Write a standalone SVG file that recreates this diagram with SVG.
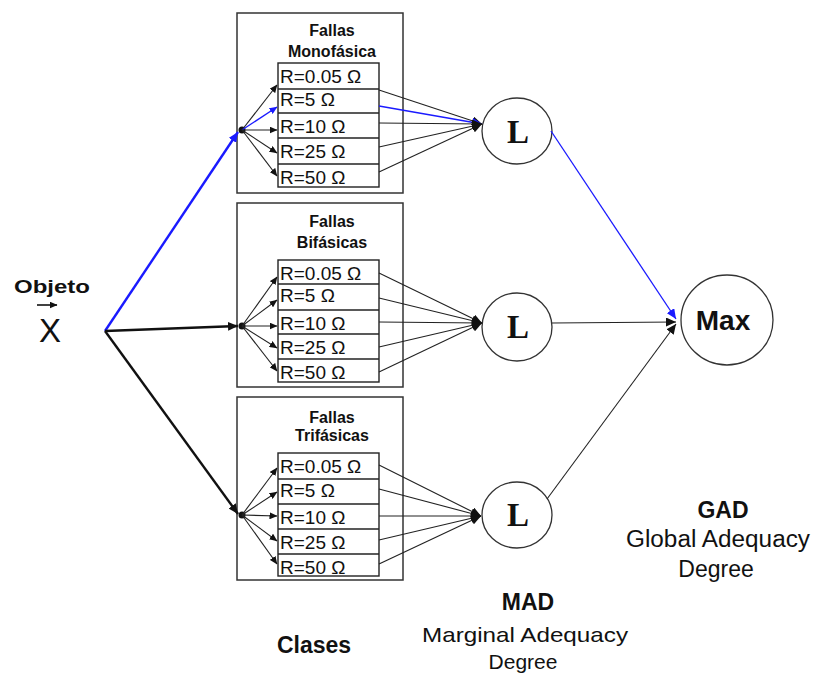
<svg xmlns="http://www.w3.org/2000/svg" width="814" height="677" viewBox="0 0 814 677">
<style>
.box{fill:none;stroke:#333;stroke-width:1.5}
.tbl{fill:#fff;stroke:#222;stroke-width:1.4}
.ttl{font-family:"Liberation Sans",Arial,sans-serif;font-weight:bold;font-size:16px;fill:#111;text-anchor:middle}
.row{font-family:"Liberation Sans",Arial,sans-serif;font-size:19px;fill:#111}
.circ{fill:#fff;stroke:#333;stroke-width:1.3}
.L{font-family:"Liberation Serif","Times New Roman",serif;font-weight:bold;font-size:33px;fill:#111;text-anchor:middle}
.lbl{font-family:"Liberation Sans",Arial,sans-serif;fill:#111;text-anchor:middle}
.b{font-weight:bold}
.main{fill:none;stroke:#111;stroke-width:2.4}
.mainb{fill:none;stroke:#1a1aff;stroke-width:2.4}
.fan{fill:none;stroke:#222;stroke-width:1.1}
.fanb{fill:none;stroke:#1a1aff;stroke-width:1.3}
.cv{fill:none;stroke:#222;stroke-width:1.1}
.cvb{fill:none;stroke:#1a1aff;stroke-width:1.3}
</style>
<defs>
<marker id="ah" markerUnits="userSpaceOnUse" markerWidth="11" markerHeight="9" refX="10" refY="4.5" orient="auto"><path d="M0,0 L10,4.5 L0,9 z" fill="#111"/></marker>
<marker id="ahb" markerUnits="userSpaceOnUse" markerWidth="11" markerHeight="9" refX="10" refY="4.5" orient="auto"><path d="M0,0 L10,4.5 L0,9 z" fill="#1a1aff"/></marker>
<marker id="as" markerUnits="userSpaceOnUse" markerWidth="8" markerHeight="7" refX="7.5" refY="3.5" orient="auto"><path d="M0,0 L8,3.5 L0,7 z" fill="#111"/></marker>
<marker id="asb" markerUnits="userSpaceOnUse" markerWidth="8" markerHeight="7" refX="7.5" refY="3.5" orient="auto"><path d="M0,0 L8,3.5 L0,7 z" fill="#1a1aff"/></marker>
</defs>
<rect width="814" height="677" fill="#fff"/>

<g id="objeto">
<text x="14" y="293" class="lbl b" style="text-anchor:start;font-size:19px" textLength="76" lengthAdjust="spacingAndGlyphs">Objeto</text>
<line x1="37" y1="305" x2="57" y2="305" stroke="#111" stroke-width="1.6" marker-end="url(#as)"/>
<text x="50" y="342" class="lbl" style="font-size:33px">X</text>
</g>

<g id="class1">
<rect class="box" x="237" y="13" width="166" height="180"/>
<text class="ttl" x="332" y="36">Fallas</text>
<text class="ttl" x="332" y="57">Monofásica</text>
<rect class="tbl" x="278" y="63" width="101" height="124"/>
<line x1="278" y1="89" x2="379" y2="89" stroke="#222" stroke-width="1.4"/>
<line x1="278" y1="113" x2="379" y2="113" stroke="#222" stroke-width="1.4"/>
<line x1="278" y1="138" x2="379" y2="138" stroke="#222" stroke-width="1.4"/>
<line x1="278" y1="164" x2="379" y2="164" stroke="#222" stroke-width="1.4"/>
<text class="row" x="280" y="83">R=0.05 Ω</text>
<text class="row" x="280" y="106">R=5 Ω</text>
<text class="row" x="280" y="133">R=10 Ω</text>
<text class="row" x="280" y="158">R=25 Ω</text>
<text class="row" x="280" y="184">R=50 Ω</text>
<circle cx="242" cy="130" r="3.5" fill="#111"/>
</g>

<g id="class2">
<rect class="box" x="237" y="203" width="166" height="184"/>
<text class="ttl" x="332" y="227">Fallas</text>
<text class="ttl" x="332" y="248">Bifásicas</text>
<rect class="tbl" x="278" y="260" width="101" height="122"/>
<line x1="278" y1="284" x2="379" y2="284" stroke="#222" stroke-width="1.4"/>
<line x1="278" y1="310" x2="379" y2="310" stroke="#222" stroke-width="1.4"/>
<line x1="278" y1="334" x2="379" y2="334" stroke="#222" stroke-width="1.4"/>
<line x1="278" y1="359" x2="379" y2="359" stroke="#222" stroke-width="1.4"/>
<text class="row" x="280" y="280">R=0.05 Ω</text>
<text class="row" x="280" y="302">R=5 Ω</text>
<text class="row" x="280" y="330">R=10 Ω</text>
<text class="row" x="280" y="354">R=25 Ω</text>
<text class="row" x="280" y="379">R=50 Ω</text>
<circle cx="242" cy="326" r="3.5" fill="#111"/>
</g>

<g id="class3">
<rect class="box" x="237" y="397" width="166" height="183"/>
<text class="ttl" x="332" y="423">Fallas</text>
<text class="ttl" x="332" y="441">Trifásicas</text>
<rect class="tbl" x="278" y="453" width="101" height="123"/>
<line x1="278" y1="479" x2="379" y2="479" stroke="#222" stroke-width="1.4"/>
<line x1="278" y1="504" x2="379" y2="504" stroke="#222" stroke-width="1.4"/>
<line x1="278" y1="529" x2="379" y2="529" stroke="#222" stroke-width="1.4"/>
<line x1="278" y1="554" x2="379" y2="554" stroke="#222" stroke-width="1.4"/>
<text class="row" x="280" y="473">R=0.05 Ω</text>
<text class="row" x="280" y="497">R=5 Ω</text>
<text class="row" x="280" y="524">R=10 Ω</text>
<text class="row" x="280" y="549">R=25 Ω</text>
<text class="row" x="280" y="574">R=50 Ω</text>
<circle cx="242" cy="515" r="3.5" fill="#111"/>
</g>

<g id="L1">
<ellipse class="circ" cx="517" cy="131" rx="35" ry="33"/>
<text class="L" x="518" y="143">L</text>
</g>
<g id="L2">
<ellipse class="circ" cx="517" cy="327" rx="35" ry="34"/>
<text class="L" x="518" y="338">L</text>
</g>
<g id="L3">
<ellipse class="circ" cx="517" cy="515" rx="35" ry="33"/>
<text class="L" x="518" y="526">L</text>
</g>
<g id="max">
<ellipse class="circ" cx="727" cy="320" rx="46" ry="45"/>
<text class="lbl b" x="723" y="330" style="font-size:28px">Max</text>
</g>

<g id="connectors">
<line class="mainb" x1="105" y1="331" x2="238" y2="132" marker-end="url(#ahb)"/>
<line class="main" x1="105" y1="331" x2="238" y2="326" marker-end="url(#ah)"/>
<line class="main" x1="105" y1="331" x2="238" y2="514" marker-end="url(#ah)"/>

<line class="fan" x1="242" y1="130" x2="277" y2="85" marker-end="url(#as)"/>
<line class="fanb" x1="242" y1="130" x2="277" y2="107" marker-end="url(#asb)"/>
<line class="fan" x1="242" y1="130" x2="277" y2="130" marker-end="url(#as)"/>
<line class="fan" x1="242" y1="130" x2="277" y2="153" marker-end="url(#as)"/>
<line class="fan" x1="242" y1="130" x2="277" y2="176" marker-end="url(#as)"/>

<line class="fan" x1="242" y1="326" x2="277" y2="277" marker-end="url(#as)"/>
<line class="fan" x1="242" y1="326" x2="277" y2="300" marker-end="url(#as)"/>
<line class="fan" x1="242" y1="326" x2="277" y2="326" marker-end="url(#as)"/>
<line class="fan" x1="242" y1="326" x2="277" y2="348" marker-end="url(#as)"/>
<line class="fan" x1="242" y1="326" x2="277" y2="371" marker-end="url(#as)"/>

<line class="fan" x1="242" y1="515" x2="277" y2="468" marker-end="url(#as)"/>
<line class="fan" x1="242" y1="515" x2="277" y2="492" marker-end="url(#as)"/>
<line class="fan" x1="242" y1="515" x2="277" y2="516" marker-end="url(#as)"/>
<line class="fan" x1="242" y1="515" x2="277" y2="541" marker-end="url(#as)"/>
<line class="fan" x1="242" y1="515" x2="277" y2="564" marker-end="url(#as)"/>

<line class="cv" x1="379" y1="90" x2="482" y2="124" marker-end="url(#ah)"/>
<line class="cvb" x1="379" y1="106" x2="482" y2="124" marker-end="url(#ahb)"/>
<line class="cv" x1="379" y1="123" x2="482" y2="124" marker-end="url(#ah)"/>
<line class="cv" x1="379" y1="147" x2="482" y2="124" marker-end="url(#ah)"/>
<line class="cv" x1="379" y1="172" x2="482" y2="124" marker-end="url(#ah)"/>

<line class="cv" x1="379" y1="273" x2="482" y2="323" marker-end="url(#ah)"/>
<line class="cv" x1="379" y1="298" x2="482" y2="323" marker-end="url(#ah)"/>
<line class="cv" x1="379" y1="322" x2="482" y2="323" marker-end="url(#ah)"/>
<line class="cv" x1="379" y1="347" x2="482" y2="323" marker-end="url(#ah)"/>
<line class="cv" x1="379" y1="372" x2="482" y2="323" marker-end="url(#ah)"/>

<line class="cv" x1="379" y1="465" x2="481" y2="516" marker-end="url(#ah)"/>
<line class="cv" x1="379" y1="489" x2="481" y2="516" marker-end="url(#ah)"/>
<line class="cv" x1="379" y1="516" x2="481" y2="516" marker-end="url(#ah)"/>
<line class="cv" x1="379" y1="540" x2="481" y2="516" marker-end="url(#ah)"/>
<line class="cv" x1="379" y1="564" x2="481" y2="516" marker-end="url(#ah)"/>

<line class="cvb" x1="551" y1="131" x2="676" y2="319" marker-end="url(#ahb)"/>
<line class="cv" x1="552" y1="323" x2="676" y2="322" marker-end="url(#ah)"/>
<line class="cv" x1="547" y1="499" x2="676" y2="324" marker-end="url(#ah)"/>
</g>

<g id="labels">
<text class="lbl b" x="314" y="653" style="font-size:23px">Clases</text>
<text class="lbl b" x="528" y="610" style="font-size:23px">MAD</text>
<text class="lbl" x="525" y="642" style="font-size:21px" textLength="206" lengthAdjust="spacingAndGlyphs">Marginal Adequacy</text>
<text class="lbl" x="523" y="669" style="font-size:21px">Degree</text>
<text class="lbl b" x="723" y="518" style="font-size:23px">GAD</text>
<text class="lbl" x="718" y="547" style="font-size:23px" textLength="184" lengthAdjust="spacingAndGlyphs">Global Adequacy</text>
<text class="lbl" x="716" y="577" style="font-size:23px">Degree</text>
</g>
</svg>
